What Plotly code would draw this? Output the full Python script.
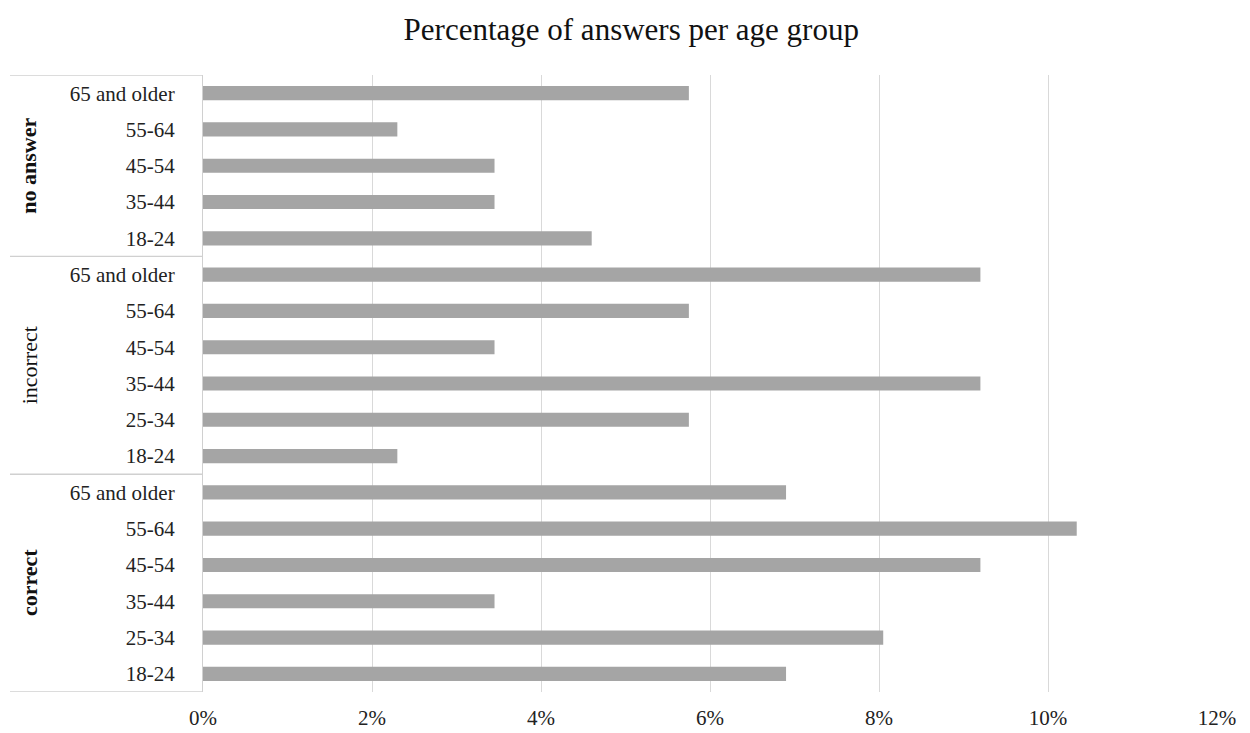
import plotly.graph_objects as go

groups = ["correct", "incorrect", "no answer"]
group_ages = [
    ["18-24", "25-34", "35-44", "45-54", "55-64", "65 and older"],
    ["18-24", "25-34", "35-44", "45-54", "55-64", "65 and older"],
    ["18-24", "35-44", "45-54", "55-64", "65 and older"],
]
correct_vals = [6.90, 8.05, 3.45, 9.20, 10.34, 6.90]
incorrect_vals = [2.30, 5.75, 9.20, 3.45, 5.75, 9.20]
no_answer_vals = [4.60, 3.45, 3.45, 2.30, 5.75]
group_vals = [correct_vals, incorrect_vals, no_answer_vals]
x_ticks = [0, 2, 4, 6, 8, 10, 12]
x_ticktext = ["0%", "2%", "4%", "6%", "8%", "10%", "12%"]

labels, values, pos = [], [], []
i = 0
bounds = [-0.5]
for g, ages, vals in zip(groups, group_ages, group_vals):
    for a, v in zip(ages, vals):
        labels.append(a)
        values.append(v)
        pos.append(i)
        i += 1
    bounds.append(i - 0.5)

FONT = "Liberation Serif, Times New Roman, serif"

fig = go.Figure(go.Bar(
    x=values, y=pos, orientation="h",
    marker=dict(color="#a5a5a5", line=dict(width=0)),
    width=0.39,
))

W0 = 203
PW = 1014
shapes = []
for b in bounds:
    shapes.append(dict(type="line", xref="paper", yref="y",
                       x0=(10 - W0) / PW, x1=0, y0=b, y1=b,
                       line=dict(color="#d0d0d0", width=1.3)))

annotations = []
start = 0
weights = ["bold", "normal", "bold"]
for g, ages, w in zip(groups, group_ages, weights):
    n = len(ages)
    mid = start + (n - 1) / 2
    annotations.append(dict(
        text=g, xref="paper", yref="y", x=(29 - W0) / PW, y=mid,
        showarrow=False, textangle=-90, xanchor="center", yanchor="middle",
        font=dict(family=FONT, size=22, color="#111111", weight=w)))
    start += n

fig.update_layout(
    width=1250, height=733,
    margin=dict(l=W0, r=1250 - W0 - PW, t=75, b=41),
    paper_bgcolor="white", plot_bgcolor="white",
    title=dict(text="Percentage of answers per age group", x=0.505, xref="container",
               y=1 - 29 / 733, yanchor="middle", xanchor="center",
               font=dict(family=FONT, size=31, color="#111111")),
    font=dict(family=FONT, size=21, color="#222222"),
    showlegend=False,
    shapes=shapes,
    annotations=annotations,
    bargap=0.6,
)
fig.update_xaxes(range=[0, 12], tickvals=x_ticks, ticktext=x_ticktext,
                 showgrid=True, gridcolor="#d9d9d9", gridwidth=1.3,
                 zeroline=False, showline=False, ticks="",
                 ticklabelstandoff=11, automargin=False,
                 tickfont=dict(family=FONT, size=21, color="#222222"))
fig.update_yaxes(range=[-0.5, len(labels) - 0.5], tickvals=pos, ticktext=labels,
                 showgrid=False, zeroline=False, showline=True,
                 linecolor="#d0d0d0", linewidth=1.3, ticks="",
                 ticklabelstandoff=23, automargin=False,
                 tickfont=dict(family=FONT, size=21, color="#222222"))

fig.write_html("out.html")
